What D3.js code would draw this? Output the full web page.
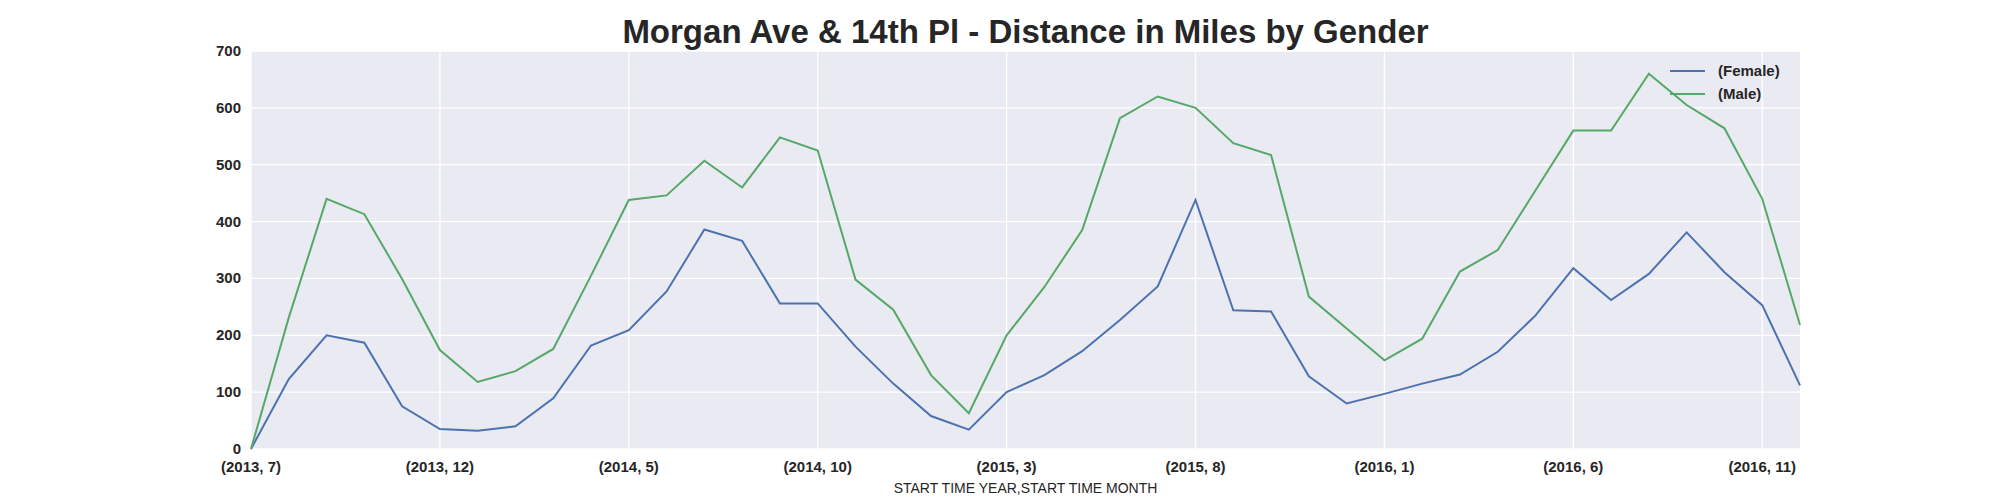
<!DOCTYPE html>
<html><head><meta charset="utf-8">
<script src="https://cdn.jsdelivr.net/npm/d3@7"></script>
<style>body{margin:0;background:#fff}text{font-family:"Liberation Sans",Arial,sans-serif}</style>
</head><body><svg id="c" width="2000" height="500"></svg>
<script>
// months 2013-7 .. 2016-12
var months = [];
for (var y = 2013, m = 7; months.length < 42; ) { months.push('(' + y + ', ' + m + ')'); m++; if (m > 12) { m = 1; y++; } }
var female = [0,123,200,187,75,35,32,40,89,182,209,277,386,366,256,256,180,115,58,34,100,130,172,227,286,438,244,242,128,80,97,115,131,171,235,318,262,308,381,311,253,112];
var male = [0,231,440,413,299,174,118,137,176,305,438,446,507,460,548,525,298,245,130,63,200,285,385,582,620,600,538,517,268,212,156,194,312,350,455,560,560,660,605,564,440,218];
var yTicks = [0,100,200,300,400,500,600,700];

var L = 251, R = 1800, T = 51, B = 449;
var svg = d3.select('#c');
var x = d3.scaleLinear().domain([0, 41]).range([L, R]);
var yS = d3.scaleLinear().domain([0, 700]).range([B, T]);

svg.append('rect').attr('x', L).attr('y', T).attr('width', R - L).attr('height', B - T).attr('fill', '#eaeaf2');
var xt = d3.range(0, 41, 5);
svg.selectAll('.gx').data(xt).enter().append('line')
  .attr('x1', d => x(d)).attr('x2', d => x(d)).attr('y1', T).attr('y2', B)
  .attr('stroke', '#fff').attr('stroke-width', 1.3);
svg.selectAll('.gy').data(yTicks).enter().append('line')
  .attr('x1', L).attr('x2', R).attr('y1', d => yS(d)).attr('y2', d => yS(d))
  .attr('stroke', '#fff').attr('stroke-width', 1.3);

svg.selectAll('.ty').data(yTicks).enter().append('text')
  .attr('x', L - 10).attr('y', d => yS(d) + 5).attr('text-anchor', 'end')
  .attr('font-size', 15).attr('font-weight', 'bold').attr('fill', '#262626').text(d => d);
svg.selectAll('.tx').data(xt).enter().append('text')
  .attr('x', d => x(d)).attr('y', B + 23).attr('text-anchor', 'middle')
  .attr('font-size', 15).attr('font-weight', 'bold').attr('fill', '#262626').text(d => months[d]);

var line = d3.line().x((d, i) => x(i)).y(d => yS(d));
svg.append('path').datum(female).attr('d', line).attr('fill', 'none').attr('stroke', '#4c72b0').attr('stroke-width', 2);
svg.append('path').datum(male).attr('d', line).attr('fill', 'none').attr('stroke', '#55a868').attr('stroke-width', 2);

svg.append('text').attr('x', (L + R) / 2).attr('y', 43).attr('text-anchor', 'middle')
  .attr('font-size', 33).attr('font-weight', 'bold').attr('fill', '#262626')
  .text('Morgan Ave & 14th Pl - Distance in Miles by Gender');
svg.append('text').attr('x', (L + R) / 2).attr('y', 493).attr('text-anchor', 'middle')
  .attr('font-size', 14).attr('fill', '#262626').text('START TIME YEAR,START TIME MONTH');

var leg = [['(Female)', '#4c72b0'], ['(Male)', '#55a868']];
leg.forEach(function(d, i) {
  var yy = 71 + i * 23;
  svg.append('line').attr('x1', 1670).attr('x2', 1705).attr('y1', yy).attr('y2', yy).attr('stroke', d[1]).attr('stroke-width', 2);
  svg.append('text').attr('x', 1718).attr('y', yy + 5).attr('font-size', 15).attr('font-weight', 'bold').attr('fill', '#262626').text(d[0]);
});
</script></body></html>
